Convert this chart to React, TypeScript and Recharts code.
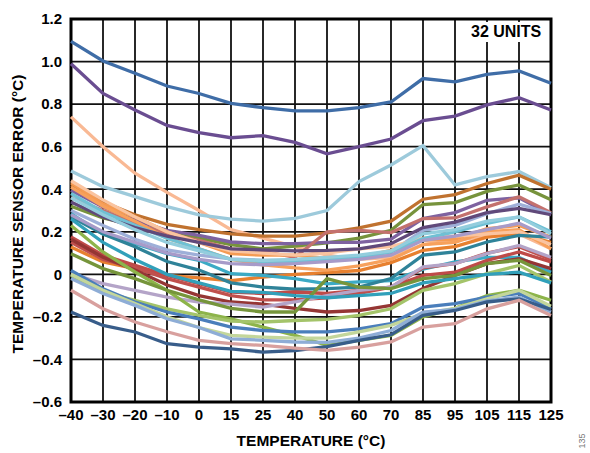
import React from 'react'
import { LineChart, Line, XAxis, YAxis, CartesianGrid, ReferenceArea } from 'recharts'

// Temperature points on the x axis (°C)
const temps = [-40, -30, -20, -10, 0, 15, 25, 40, 50, 60, 70, 85, 95, 105, 115, 125]
const yTicks = [-0.6, -0.4, -0.2, 0, 0.2, 0.4, 0.6, 0.8, 1.0, 1.2]

// Sensor error per unit (°C)
const unit01 = [1.095, 1.003, 0.945, 0.885, 0.85, 0.804, 0.783, 0.768, 0.768, 0.783, 0.81, 0.92, 0.905, 0.94, 0.956, 0.898]
const unit02 = [0.99, 0.85, 0.772, 0.7, 0.666, 0.642, 0.652, 0.62, 0.566, 0.6, 0.636, 0.722, 0.744, 0.796, 0.83, 0.772]
const unit03 = [0.74, 0.6, 0.475, 0.385, 0.3, 0.21, 0.17, 0.13, 0.09, 0.07, 0.08, 0.14, 0.16, 0.18, 0.19, 0.12]
const unit04 = [0.486, 0.412, 0.365, 0.318, 0.279, 0.259, 0.25, 0.263, 0.3, 0.436, 0.514, 0.605, 0.42, 0.459, 0.483, 0.407]
const unit05 = [0.42, 0.34, 0.28, 0.235, 0.21, 0.19, 0.18, 0.18, 0.195, 0.218, 0.25, 0.353, 0.375, 0.427, 0.466, 0.4]
const unit06 = [0.32, 0.265, 0.23, 0.2, 0.17, 0.14, 0.12, 0.133, 0.148, 0.17, 0.207, 0.328, 0.337, 0.39, 0.42, 0.35]
const unit07 = [0.395, 0.317, 0.254, 0.207, 0.183, 0.152, 0.144, 0.144, 0.15, 0.15, 0.165, 0.262, 0.29, 0.348, 0.36, 0.28]
const unit08 = [0.36, 0.3, 0.24, 0.19, 0.16, 0.12, 0.108, 0.08, 0.2, 0.207, 0.196, 0.262, 0.265, 0.317, 0.364, 0.29]
const unit09 = [0.3, 0.23, 0.165, 0.115, 0.09, 0.073, 0.066, 0.066, 0.073, 0.08, 0.105, 0.207, 0.23, 0.285, 0.33, 0.285]
const unit10 = [0.43, 0.33, 0.27, 0.2, 0.15, 0.097, 0.09, 0.09, 0.075, 0.08, 0.113, 0.16, 0.165, 0.215, 0.23, 0.175]
const unit11 = [0.128, 0.058, 0.027, -0.005, -0.017, -0.03, -0.013, 0.0, 0.008, 0.018, 0.055, 0.113, 0.13, 0.175, 0.19, 0.15]
const unit12 = [0.41, 0.32, 0.25, 0.17, 0.12, 0.07, 0.045, 0.03, 0.02, 0.04, 0.07, 0.14, 0.15, 0.2, 0.21, 0.12]
const unit13 = [0.44, 0.35, 0.27, 0.2, 0.15, 0.11, 0.1, 0.09, 0.1, 0.12, 0.13, 0.17, 0.18, 0.19, 0.2, 0.14]
const unit14 = [0.38, 0.293, 0.23, 0.17, 0.12, 0.07, 0.06, 0.06, 0.065, 0.08, 0.105, 0.168, 0.2, 0.24, 0.27, 0.2]
const unit15 = [0.285, 0.19, 0.144, 0.097, 0.066, 0.003, -0.005, -0.02, -0.045, -0.035, -0.03, 0.024, 0.058, 0.08, 0.08, 0.01]
const unit16 = [0.27, 0.19, 0.13, 0.06, 0.02, -0.04, -0.06, -0.07, -0.067, -0.06, -0.02, 0.09, 0.105, 0.152, 0.183, 0.175]
const unit17 = [0.176, 0.09, 0.042, -0.005, -0.044, -0.083, -0.09, -0.083, -0.09, -0.075, -0.06, -0.005, 0.01, 0.066, 0.105, 0.058]
const unit18 = [0.15, 0.07, 0.03, -0.02, -0.06, -0.1, -0.12, -0.12, -0.11, -0.09, -0.06, 0.03, 0.05, 0.1, 0.13, 0.07]
const unit19 = [0.165, 0.08, 0.02, -0.05, -0.1, -0.13, -0.14, -0.16, -0.177, -0.17, -0.146, -0.067, -0.005, 0.05, 0.074, 0.027]
const unit20 = [0.003, -0.044, -0.075, -0.107, -0.13, -0.14, -0.154, -0.13, -0.1, -0.075, -0.06, 0.035, 0.05, 0.097, 0.136, 0.08]
const unit21 = [0.23, 0.105, 0.011, -0.075, -0.177, -0.209, -0.248, -0.287, -0.334, -0.31, -0.287, -0.2, -0.16, -0.1, -0.075, -0.122]
const unit22 = [0.097, 0.027, -0.02, -0.075, -0.12, -0.16, -0.177, -0.177, -0.02, -0.06, -0.067, -0.02, -0.005, 0.05, 0.066, -0.005]
const unit23 = [-0.005, -0.083, -0.122, -0.162, -0.193, -0.22, -0.224, -0.217, -0.212, -0.193, -0.162, -0.075, -0.044, 0.003, 0.042, -0.036]
const unit24 = [0.018, -0.068, -0.13, -0.177, -0.209, -0.248, -0.264, -0.27, -0.27, -0.256, -0.232, -0.154, -0.138, -0.107, -0.09, -0.162]
const unit25 = [0.0, -0.075, -0.137, -0.2, -0.25, -0.287, -0.295, -0.3, -0.3, -0.27, -0.24, -0.185, -0.16, -0.115, -0.075, -0.15]
const unit26 = [-0.02, -0.09, -0.146, -0.209, -0.25, -0.303, -0.31, -0.318, -0.32, -0.3, -0.264, -0.177, -0.165, -0.125, -0.107, -0.177]
const unit27 = [-0.177, -0.24, -0.271, -0.326, -0.342, -0.35, -0.366, -0.358, -0.34, -0.31, -0.284, -0.193, -0.17, -0.13, -0.115, -0.165]
const unit28 = [-0.075, -0.162, -0.224, -0.27, -0.31, -0.326, -0.334, -0.347, -0.357, -0.342, -0.318, -0.248, -0.232, -0.162, -0.122, -0.193]
const unit29 = [0.34, 0.27, 0.22, 0.18, 0.15, 0.12, 0.115, 0.11, 0.113, 0.12, 0.144, 0.22, 0.245, 0.29, 0.31, 0.28]
const unit30 = [0.36, 0.28, 0.21, 0.15, 0.11, 0.07, 0.065, 0.07, 0.08, 0.09, 0.11, 0.19, 0.21, 0.25, 0.27, 0.19]
const unit31 = [0.26, 0.15, 0.07, 0.0, -0.04, -0.08, -0.085, -0.1, -0.11, -0.1, -0.09, -0.04, -0.02, 0.0, 0.01, -0.04]
const unit32 = [0.28, 0.2, 0.15, 0.1, 0.07, 0.05, 0.045, 0.05, 0.06, 0.07, 0.09, 0.16, 0.18, 0.21, 0.24, 0.17]

// Office-style palette, one per unit
const units = [
  { key: 'u01', values: unit01, color: '#3F6DA7' },
  { key: 'u02', values: unit02, color: '#6A4D91' },
  { key: 'u03', values: unit03, color: '#F9B994' },
  { key: 'u04', values: unit04, color: '#9DCADB' },
  { key: 'u05', values: unit05, color: '#C0722F' },
  { key: 'u06', values: unit06, color: '#77933C' },
  { key: 'u07', values: unit07, color: '#7E62A0' },
  { key: 'u08', values: unit08, color: '#C3716E' },
  { key: 'u09', values: unit09, color: '#9EAFD8' },
  { key: 'u10', values: unit10, color: '#F59B53' },
  { key: 'u11', values: unit11, color: '#E7802F' },
  { key: 'u12', values: unit12, color: '#F7A15C' },
  { key: 'u13', values: unit13, color: '#FAC4A0' },
  { key: 'u14', values: unit14, color: '#6FC0D4' },
  { key: 'u15', values: unit15, color: '#3CAAC5' },
  { key: 'u16', values: unit16, color: '#2F8399' },
  { key: 'u17', values: unit17, color: '#BF4B48' },
  { key: 'u18', values: unit18, color: '#C0504D' },
  { key: 'u19', values: unit19, color: '#953634' },
  { key: 'u20', values: unit20, color: '#B4A4C8' },
  { key: 'u21', values: unit21, color: '#8DB44A' },
  { key: 'u22', values: unit22, color: '#76953B' },
  { key: 'u23', values: unit23, color: '#A4C46A' },
  { key: 'u24', values: unit24, color: '#4A7EBB' },
  { key: 'u25', values: unit25, color: '#C3D69B' },
  { key: 'u26', values: unit26, color: '#8EADD6' },
  { key: 'u27', values: unit27, color: '#385D8A' },
  { key: 'u28', values: unit28, color: '#D8A09E' },
  { key: 'u29', values: unit29, color: '#60497A' },
  { key: 'u30', values: unit30, color: '#93CDDD' },
  { key: 'u31', values: unit31, color: '#31A0BA' },
  { key: 'u32', values: unit32, color: '#A79BC9' },
]

const chartData = temps.map((t, i) => {
  const row: Record<string, number> = { temp: t }
  units.forEach((u) => {
    row[u.key] = u.values[i]
  })
  return row
})

const FONT = '"Liberation Sans", Arial, sans-serif'

// en dash for negative numbers, like the datasheet
const fmtTemp = (v: number) => (v < 0 ? `\u2013${Math.abs(v)}` : `${v}`)
const fmtErr = (v: number) => {
  if (Math.abs(v) < 1e-9) return '0'
  const s = Math.abs(v).toFixed(1)
  return v < 0 ? `\u2013${s}` : s
}

const tickStyle = { fill: '#000', fontSize: 15, fontWeight: 700, fontFamily: FONT }

const App: React.FC = () => {
  return (
    <div style={{ position: 'absolute', left: 0, top: 0, width: 590, height: 453, background: '#fff', fontFamily: FONT }}>
      <LineChart width={590} height={453} data={chartData} margin={{ top: 19, right: 39, left: 0, bottom: 0 }}>
        <CartesianGrid stroke="#111" strokeWidth={1.8} />
        <XAxis
          dataKey="temp"
          type="category"
          height={51}
          tickSize={0}
          tickMargin={7}
          axisLine={false}
          tick={tickStyle}
          tickFormatter={fmtTemp}
          interval={0}
        />
        <YAxis
          type="number"
          domain={[-0.6, 1.2]}
          ticks={yTicks}
          width={71}
          tickSize={0}
          tickMargin={9}
          axisLine={false}
          tick={tickStyle}
          tickFormatter={fmtErr}
          interval={0}
        />
        {units.map((u) => (
          <Line
            key={u.key}
            type="linear"
            dataKey={u.key}
            stroke={u.color}
            strokeWidth={3.3}
            dot={false}
            isAnimationActive={false}
          />
        ))}
        <ReferenceArea x1={-40} x2={125} y1={-0.6} y2={1.2} fill="none" stroke="#000" strokeWidth={3} ifOverflow="visible" />
      </LineChart>

      <div
        style={{
          position: 'absolute',
          left: 466,
          top: 22,
          padding: '0 5px',
          background: '#fff',
          fontSize: 16,
          fontWeight: 700,
          lineHeight: '20px',
          whiteSpace: 'nowrap',
        }}
      >
        32 UNITS
      </div>

      <div
        style={{
          position: 'absolute',
          left: 311,
          top: 441,
          transform: 'translate(-50%, -50%)',
          fontSize: 15.5,
          fontWeight: 700,
          whiteSpace: 'nowrap',
        }}
      >
        TEMPERATURE (°C)
      </div>

      <div
        style={{
          position: 'absolute',
          left: 18,
          top: 214,
          transform: 'translate(-50%, -50%) rotate(-90deg)',
          fontSize: 15.5,
          fontWeight: 700,
          whiteSpace: 'nowrap',
        }}
      >
        TEMPERATURE SENSOR ERROR (°C)
      </div>

      <div
        style={{
          position: 'absolute',
          left: 582,
          top: 441,
          transform: 'translate(-50%, -50%) rotate(-90deg)',
          fontSize: 9,
          color: '#777',
          whiteSpace: 'nowrap',
        }}
      >
        135
      </div>
    </div>
  )
}

export default App
